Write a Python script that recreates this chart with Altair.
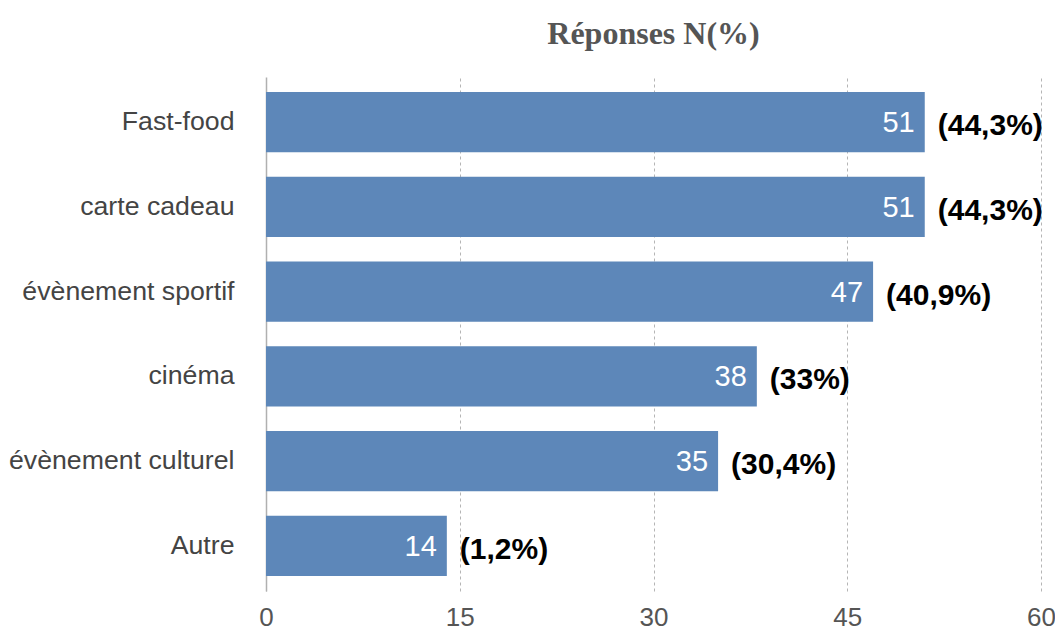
import altair as alt
import pandas as pd

categories = ["Fast-food", "carte cadeau", "évènement sportif", "cinéma", "évènement culturel", "Autre"]
counts = [51, 51, 47, 38, 35, 14]
pct_labels = ["(44,3%)", "(44,3%)", "(40,9%)", "(33%)", "(30,4%)", "(1,2%)"]
x_ticks = [0, 15, 30, 45, 60]

df = pd.DataFrame({"cat": categories, "n": counts, "pct": pct_labels})

y_enc = alt.Y("cat:N", sort=categories, title=None,
              scale=alt.Scale(paddingInner=0.29, paddingOuter=0.177),
              axis=alt.Axis(ticks=False, labelPadding=32, labelFontSize=26.7, labelLimit=400,
                            labelColor="#444444", labelFont="Liberation Sans",
                            domainColor="#b0b0b0", domainWidth=1.5, grid=False))

x_enc = alt.X("n:Q", title=None,
              scale=alt.Scale(domain=[0, 60], nice=False),
              axis=alt.Axis(values=x_ticks, ticks=False, domain=False, labelPadding=13,
                            labelFlush=False,
                            labelFontSize=26, labelColor="#555555", labelFont="Liberation Sans",
                            grid=True, gridDash=[3, 3], gridColor="#b5b5b5", gridWidth=1))

base = alt.Chart(df)

bars = base.mark_bar(color="#5d87b9").encode(x=x_enc, y=y_enc)

inner = base.mark_text(align="right", baseline="middle", dx=-10, dy=1, color="white",
                       fontSize=29, font="Liberation Sans").encode(
    x=alt.X("n:Q"), y=alt.Y("cat:N", sort=categories), text=alt.Text("n:Q"))

outer = base.mark_text(align="left", baseline="middle", dx=13, dy=4, color="black",
                       fontSize=30, fontWeight="bold", font="Liberation Sans").encode(
    x=alt.X("n:Q"), y=alt.Y("cat:N", sort=categories), text=alt.Text("pct:N"))

chart = (bars + inner + outer).properties(
    width=775, height=514,
    autosize=alt.AutoSizeParams(type="none"),
    padding={"left": 258, "top": 69, "right": 14, "bottom": 37},
    title=alt.TitleParams("Réponses N(%)", font="Liberation Serif", fontSize=32,
                          fontWeight="bold", color="#555555", offset=26, anchor="middle"),
).configure_view(stroke=None)

chart.save("out.html", embed_options={"renderer": "svg", "actions": False})
